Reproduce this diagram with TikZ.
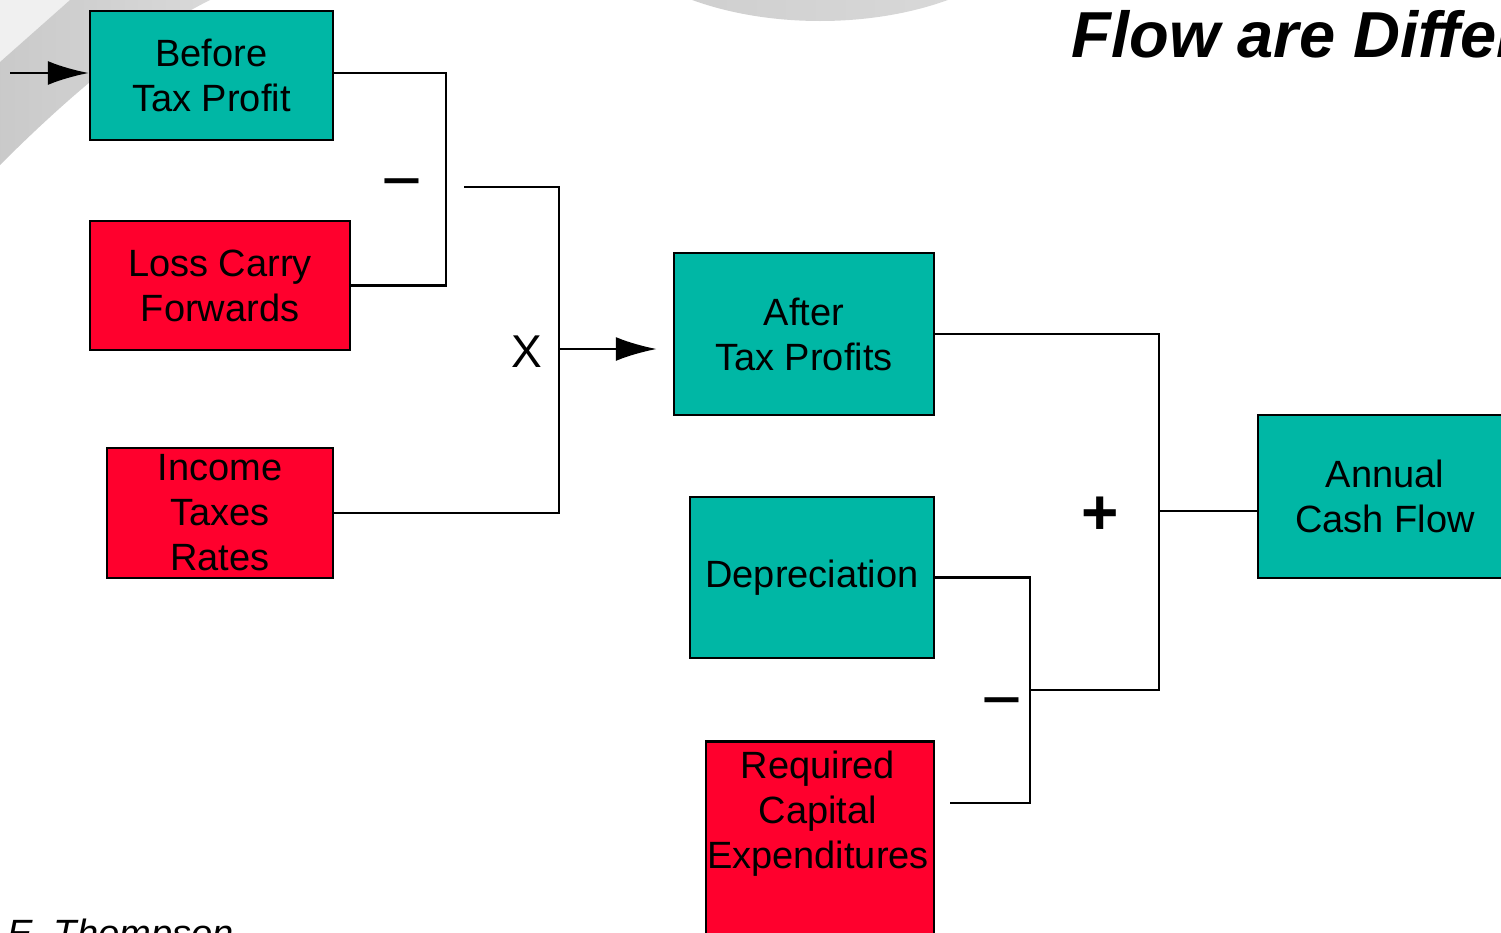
\documentclass[tikz,border=0pt]{standalone}
\usepackage{fontspec}
\setmainfont{Liberation Sans}
\usetikzlibrary{arrows.meta}
\definecolor{boxteal}{RGB}{0,183,165}
\definecolor{boxred}{RGB}{255,0,45}
\tikzset{
  boxtext/.style={align=center, inner sep=0pt, font=\fontsize{38}{45}\selectfont},
  box/.style={boxtext, draw=black, line width=2.5pt},
  tealbox/.style={box, fill=boxteal},
  redbox/.style={box, fill=boxred},
  wire/.style={line width=2.5pt},
  sign/.style={inner sep=0pt},
  bigarrow/.style={wire, -{Latex[length=41pt,width=24pt]}},
}
\begin{document}
\begin{tikzpicture}[x=1pt,y=-1pt]
  \useasboundingbox (0,0) rectangle (1501,932);
  % slide background
  \fill[gray!12] (0,0) -- (70,0) -- (0,62) -- cycle;
  \shade[left color=gray!42, right color=gray!30] (70,0) -- (210,0) .. controls (150,30) and (80,85) .. (0,165) -- (0,62) -- cycle;
  \shade[left color=gray!40, right color=gray!28] (820,-100) ellipse [x radius=227, y radius=121];
  \node (title) [anchor=base west, font=\fontsize{65}{72}\selectfont\bfseries\itshape] at (1068,57) {Flow are Different};
  \node (author) [anchor=base west, font=\fontsize{38}{45}\selectfont\itshape] at (4,946) {E. Thompson};
  % boxes
  \node[tealbox, minimum width=243pt, minimum height=129pt] (btp) at (211.5,75.5) {Before\\Tax Profit};
  \node[redbox, minimum width=260pt, minimum height=129pt] (lcf) at (220,285.5) {Loss Carry\\Forwards};
  \node[redbox, minimum width=226pt, minimum height=130pt] (itr) at (220,513) {Income\\Taxes\\Rates};
  \node[tealbox, minimum width=260pt, minimum height=162pt] (atp) at (804,334) {After\\Tax Profits};
  \node[tealbox, minimum width=244pt, minimum height=161pt] (dep) at (812,577.5) {Depreciation};
  \node[redbox, minimum width=228pt, minimum height=230pt, anchor=north] (rce) at (820,740) {};
  \node[boxtext] (rcetext) at (818,814) {Required\\Capital\\Expenditures};
  \node[tealbox, minimum width=254pt, minimum height=163pt] (acf) at (1385,496.5) {Annual\\Cash Flow};
  % junctions
  \coordinate (in) at (10,73);
  \coordinate (ja) at (446,180);
  \coordinate (jb) at (464,187);
  \coordinate (jx) at (559,349);
  \coordinate (jc) at (1159,511);
  \coordinate (jd) at (1030,690);
  \coordinate (je) at (950,803);
  % wires
  \draw[bigarrow] (in) -- (in -| btp.west);
  \draw[wire] (in -| btp.east) -| (ja) |- (lcf.east);
  \draw[wire] (jb) -| (jx) |- (itr.east);
  \draw[bigarrow, shorten >=16pt] (jx) -- (jx -| atp.west);
  \draw[wire] (atp.east) -| (jc) |- (jd);
  \draw[wire] (jc) -- (jc -| acf.west);
  \draw[wire] (dep.east) -| (jd) |- (je);
  % operators
  \node[sign, font=\fontsize{70}{70}\selectfont] (minusa) at (402,192) {−};
  \node[sign, font=\fontsize{46}{46}\selectfont] (times) at (527,352) {X};
  \node[sign, font=\fontsize{64}{64}\selectfont\bfseries] (plus) at (1100,516) {+};
  \node[sign, font=\fontsize{70}{70}\selectfont] (minusb) at (1002,711) {−};
\end{tikzpicture}
\end{document}
